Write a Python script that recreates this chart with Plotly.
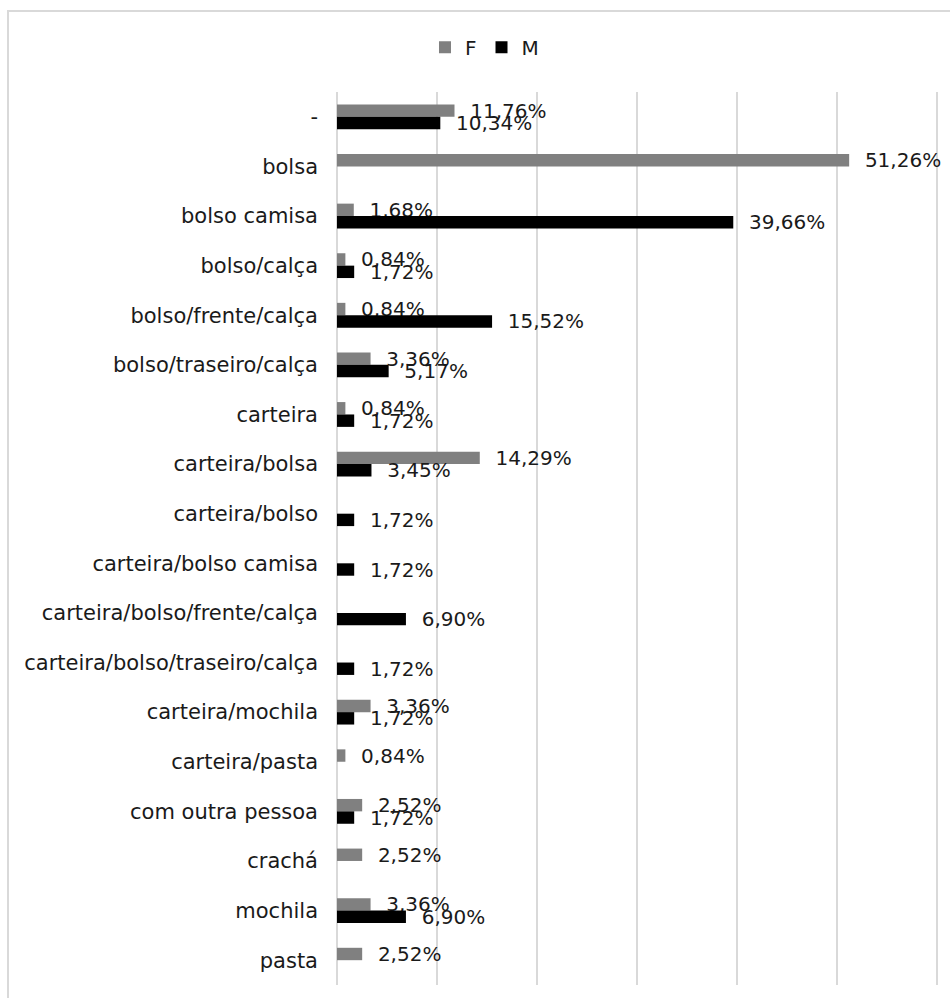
import plotly.graph_objects as go

# Categories, top to bottom
categories = [
    "-", "bolsa", "bolso camisa", "bolso/calça", "bolso/frente/calça",
    "bolso/traseiro/calça", "carteira", "carteira/bolsa", "carteira/bolso",
    "carteira/bolso camisa", "carteira/bolso/frente/calça",
    "carteira/bolso/traseiro/calça", "carteira/mochila", "carteira/pasta",
    "com outra pessoa", "crachá", "mochila", "pasta",
]

# Percentages per sex (None = no response in that category)
f_values = [11.76, 51.26, 1.68, 0.84, 0.84, 3.36, 0.84, 14.29, None, None,
            None, None, 3.36, 0.84, 2.52, 2.52, 3.36, 2.52]
m_values = [10.34, None, 39.66, 1.72, 15.52, 5.17, 1.72, 3.45, 1.72, 1.72,
            6.90, 1.72, 1.72, None, 1.72, None, 6.90, None]

x_ticks = [0, 10, 20, 30, 40, 50, 60]

FONT = "DejaVu Sans"
GAP = "\u00a0\u00a0"


def pct_labels(values):
    return ["" if v is None else GAP + f"{v:.2f}".replace(".", ",") + "%" for v in values]


fig = go.Figure()
for name, vals, color in [("F", f_values, "#808080"), ("M", m_values, "#000000")]:
    fig.add_trace(go.Bar(
        name=name,
        y=categories,
        x=vals,
        orientation="h",
        marker=dict(color=color, line=dict(width=0)),
        text=pct_labels(vals),
        textposition="outside",
        constraintext="none",
        cliponaxis=False,
        textfont=dict(family=FONT, size=20, color="#1a1a1a"),
        hoverinfo="x+y+name",
    ))

fig.update_layout(
    width=950,
    height=998,
    barmode="group",
    bargap=0.5,
    bargroupgap=0,
    plot_bgcolor="white",
    paper_bgcolor="white",
    margin=dict(l=337, r=11, t=92, b=13),
    font=dict(family=FONT, size=20, color="#1a1a1a"),
    legend=dict(
        orientation="h",
        x=0.245, xanchor="center",
        y=1.05, yanchor="middle",
        font=dict(family=FONT, size=20, color="#1a1a1a"),
        itemwidth=30,
        traceorder="normal",
        bgcolor="rgba(0,0,0,0)",
    ),
    xaxis=dict(
        range=[0, 60.25],
        tickvals=x_ticks,
        showticklabels=False,
        showgrid=True,
        gridcolor="#d9d9d9",
        gridwidth=1.5,
        zeroline=True,
        zerolinecolor="#d9d9d9",
        zerolinewidth=1.5,
        showline=False,
        fixedrange=True,
    ),
    yaxis=dict(
        categoryorder="array",
        categoryarray=categories,
        autorange="reversed",
        showgrid=False,
        showline=False,
        zeroline=False,
        ticks="",
        ticklabelstandoff=18,
        tickfont=dict(family=FONT, size=21, color="#1a1a1a"),
        fixedrange=True,
    ),
    shapes=[dict(
        type="rect", xref="paper", yref="paper",
        x0=-0.5465, x1=1.03, y0=-0.03, y1=1.0907,
        line=dict(color="#d9d9d9", width=2),
        fillcolor="rgba(0,0,0,0)",
        layer="below",
    )],
)

fig.write_html("out.html")
